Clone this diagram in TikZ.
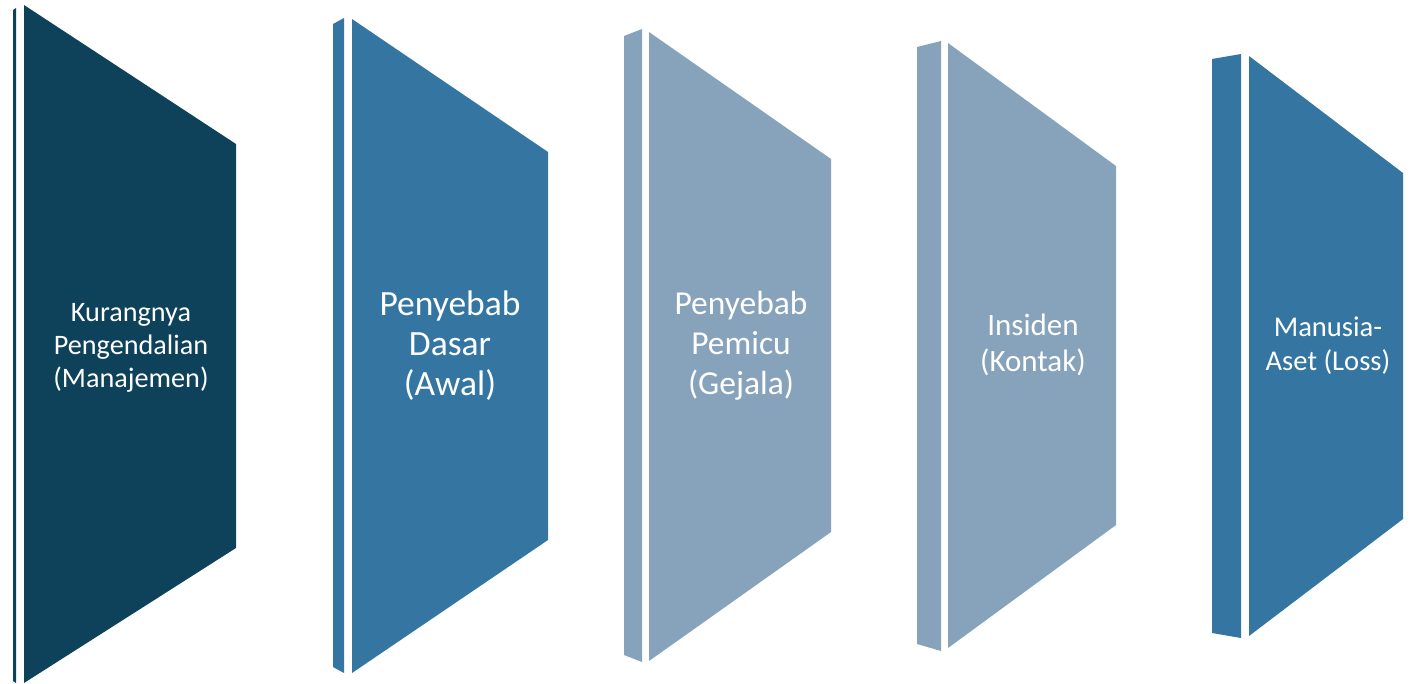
\documentclass[tikz,border=0pt]{standalone}
\usepackage{fontspec}
\setmainfont{Carlito}
\usepackage{tikz}
\definecolor{biruTua}{RGB}{14,65,90}
\definecolor{biruSedang}{RGB}{52,118,161}
\definecolor{biruMuda}{RGB}{135,163,187}
\tikzset{
  muka/.style  = {fill=#1},
  sisi/.style  = {fill=#1},
  teks/.style  = {text=white, align=center, inner sep=0pt},
  ukuran/.style 2 args = {font=\fontsize{#1}{#2}\selectfont}
}

\begin{document}
\begin{tikzpicture}[x=1pt, y=-1pt]
		\useasboundingbox (0,0) rectangle (1412,683);

		% domino 1
		\fill[sisi=biruTua] (13,10) -- (16,8) -- (16,683) -- (13,681) -- cycle;
		\fill[muka=biruTua] (24,5) -- (236,144) -- (236,548) -- (24,683) -- cycle;
		% domino 2
		\fill[sisi=biruSedang] (333,24) -- (344,18) -- (344,673) -- (333,667) -- cycle;
		\fill[muka=biruSedang] (352,19) -- (548,152) -- (548,540) -- (352,673) -- cycle;
		% domino 3
		\fill[sisi=biruMuda] (624,36) -- (642,29) -- (642,662) -- (624,655) -- cycle;
		\fill[muka=biruMuda] (649,32) -- (831,159) -- (831,532) -- (649,661) -- cycle;
		% domino 4
		\fill[sisi=biruMuda] (917,47) -- (941,41) -- (941,651) -- (917,644) -- cycle;
		\fill[muka=biruMuda] (948,43) -- (1116,166) -- (1116,525) -- (948,648) -- cycle;
		% domino 5
		\fill[sisi=biruSedang] (1212,59) -- (1241,54) -- (1241,638) -- (1212,633) -- cycle;
		\fill[muka=biruSedang] (1249,56) -- (1403,173) -- (1403,519) -- (1249,636) -- cycle;

		\node[teks, ukuran={28.2}{33}] (k1) at (131,348) {Kurangnya\\ Pengendalian\\ (Manajemen)};
		\node[teks, ukuran={35.5}{40}] (k2) at (450,346) {Penyebab\\ Dasar\\ (Awal)};
		\node[teks, ukuran={33.5}{40}] (k3) at (741,346) {Penyebab\\ Pemicu\\ (Gejala)};
		\node[teks, ukuran={31}{36}] (k4) at (1033,345) {Insiden\\ (Kontak)};
		\node[teks, ukuran={28.6}{34}] (k5) at (1328,346) {Manusia-\\ Aset (Loss)};
	\end{tikzpicture}
\end{document}
